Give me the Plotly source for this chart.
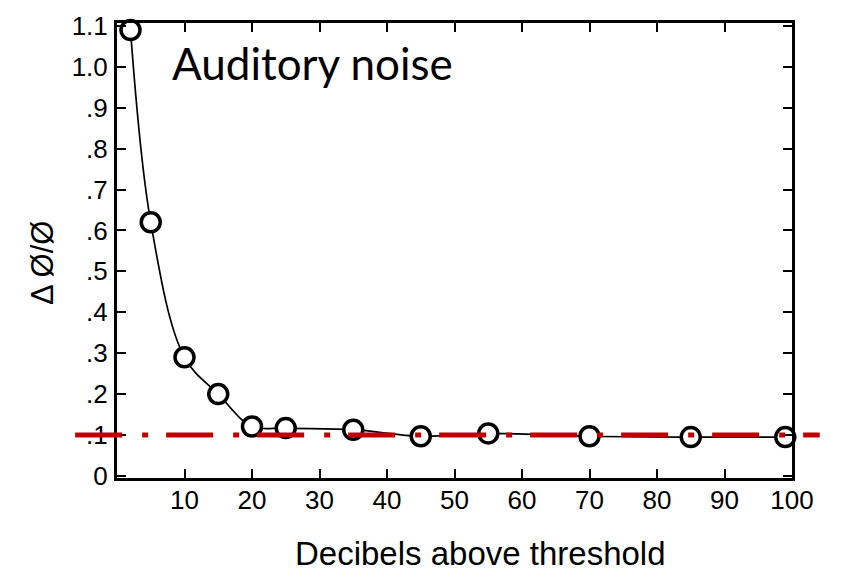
import plotly.graph_objects as go

# ---- data ----
DB = [2, 5, 10, 15, 20, 25, 35, 45, 55, 70, 85, 99]
RATIO = [1.09, 0.62, 0.29, 0.20, 0.121, 0.117, 0.113, 0.097, 0.104, 0.097, 0.095, 0.095]
X_TICKS = [10, 20, 30, 40, 50, 60, 70, 80, 90, 100]
X_LABELS = [str(v) for v in X_TICKS]
Y_TICKS = [0, 0.1, 0.2, 0.3, 0.4, 0.5, 0.6, 0.7, 0.8, 0.9, 1.0, 1.1]
Y_LABELS = ["0", ".1", ".2", ".3", ".4", ".5", ".6", ".7", ".8", ".9", "1.0", "1.1"]
REF_LEVEL = 0.1
TITLE_TEXT = "Auditory noise"
X_TITLE = "Decibels above threshold"
Y_TITLE = "Δ Ø/Ø"

FONT = "Liberation Sans, Arial, sans-serif"

fig = go.Figure()
fig.add_trace(go.Scatter(
    x=DB, y=RATIO, mode="lines+markers",
    line=dict(color="black", width=1.7, shape="spline", smoothing=1.0),
    marker=dict(size=19, color="white", line=dict(color="black", width=3.5)),
    showlegend=False, cliponaxis=False,
))

fig.add_shape(type="line", xref="paper", yref="y",
              x0=-0.062, x1=1.041, y0=REF_LEVEL, y1=REF_LEVEL,
              line=dict(color="#C00000", width=5, dash="47px,20px,6px,18px"),
              layer="above")

axis_common = dict(
    showline=True, linecolor="black", linewidth=3, mirror="ticks",
    ticks="inside", ticklen=9, tickwidth=2, tickcolor="black",
    showgrid=False, zeroline=False,
    tickfont=dict(family=FONT, size=26, color="black"),
)

fig.update_xaxes(range=[0, 100], tickvals=X_TICKS, ticktext=X_LABELS,
                 ticklabelstandoff=-3, **axis_common)
fig.update_yaxes(range=[-0.005, 1.107], tickvals=Y_TICKS, ticktext=Y_LABELS,
                 ticklabelstandoff=1, **axis_common)

fig.add_annotation(text=X_TITLE, xref="paper", yref="paper", x=0.539, y=-0.165,
                   xanchor="center", yanchor="middle", showarrow=False,
                   font=dict(family=FONT, size=33, color="black"))
fig.add_annotation(text=Y_TITLE, xref="paper", yref="paper", x=-0.111, y=0.4725,
                   xanchor="center", yanchor="middle", showarrow=False, textangle=-90,
                   font=dict(family=FONT, size=31, color="black"))
fig.add_annotation(text=TITLE_TEXT, xref="paper", yref="paper", x=0.078, y=0.912,
                   xanchor="left", yanchor="middle", showarrow=False,
                   font=dict(family="Lato, Carlito, sans-serif", size=44, color="black"))

fig.update_layout(
    width=843, height=574,
    margin=dict(l=117, r=51, t=23, b=96),
    plot_bgcolor="white", paper_bgcolor="white",
)

fig.write_html("out.html")
